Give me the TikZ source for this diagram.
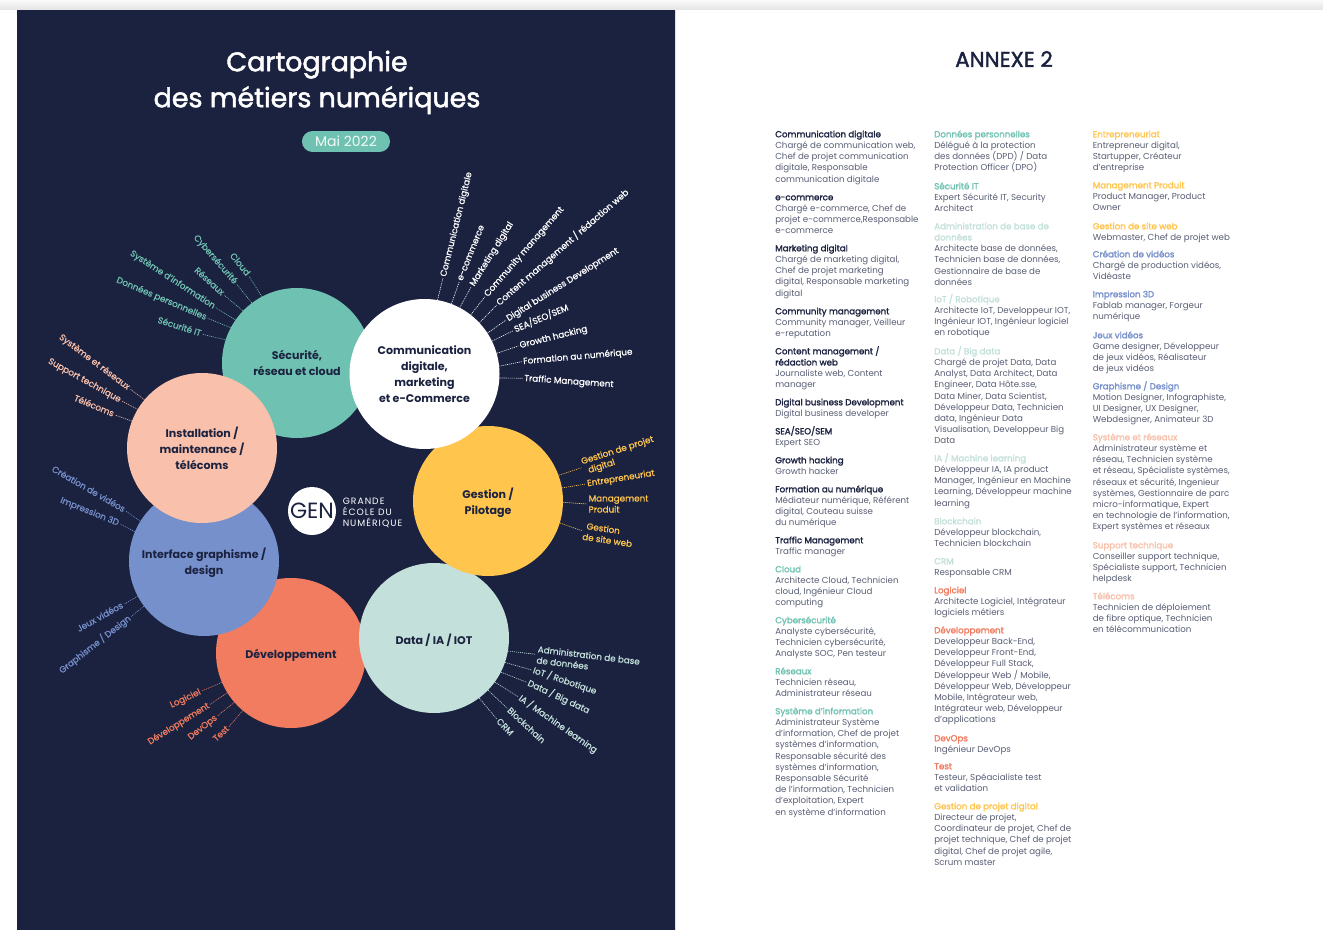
\documentclass[tikz,border=0pt]{standalone}
\usepackage{fontspec}
\setmainfont{Poppins}
\newfontfamily\medf[FakeBold=0.9]{Poppins}
\newfontfamily\titf[FakeBold=1.8]{Poppins}
\newfontfamily\schoolf[LetterSpace=11]{Poppins}
\usetikzlibrary{calc}
\definecolor{navy}{HTML}{1B2240}
\definecolor{teal}{HTML}{6FC2B2}
\definecolor{peach}{HTML}{F9C0AB}
\definecolor{blu}{HTML}{7690CC}
\definecolor{coral}{HTML}{F27C5F}
\definecolor{amber}{HTML}{FFC54D}
\definecolor{mint}{HTML}{C3E0DA}
\definecolor{bodyc}{HTML}{595E74}
\tikzset{
  bub/.style={circle,minimum size=112.5pt,inner sep=0pt,align=center,text=navy,font=\fontsize{8.3}{12}\selectfont\bfseries},
  lab/.style={inner xsep=1pt,inner ysep=0pt,text height=5.2pt,text depth=1.4pt,font=\fontsize{6.6}{8.3}\medf},
  labm/.style={inner xsep=1pt,inner ysep=0pt,align=left,font=\fontsize{6.6}{8.3}\medf},
  cn/.style={line width=0.45pt,dash pattern=on 0.8pt off 0.7pt},
  blk/.style={anchor=north west,inner sep=0pt,align=left,text=bodyc,font=\fontsize{6.5}{8.4}\selectfont}
}
\newcommand{\blk}[6]{\node[blk] (#1) at (#2,{#3-7.67}) {\rule{0pt}{8pt}\textcolor{#4}{\titf #5}\\#6};}
\newcommand{\dn}{\rule{0pt}{11pt}}
\begin{document}
\begin{tikzpicture}[x=0.75pt,y=-0.75pt]
\useasboundingbox (0,0) rectangle (1323,930);
\fill[white] (0,0) rectangle (1323,930);
\shade[top color=white!98!black,bottom color=white!89!black] (0,0) rectangle (1323,10);
\fill[navy] (17,10) rectangle (675,930);
\fill[white!88!black] (675,10) rectangle (676,930);

\node[text=white,font=\fontsize{20.2}{27}\titf,align=center] (title) at (317,82.5) {Cartographie\\des métiers numériques};
\node[fill=teal,rounded corners=7.8pt,minimum width=66pt,minimum height=15.7pt,inner sep=0pt,text=white!90!teal,font=\fontsize{10.5}{12}\selectfont] (date) at (346,141.5) {Mai 2022};

% circles
\node[bub,fill=coral] (dev) at (291,653) {\dn Développement};
\node[bub,fill=mint] (dat) at (434,638) {\dn Data / IA / IOT};
\node[bub,fill=blu] (inter) at (204,561) {\dn Interface graphisme /\\design};
\node[bub,fill=teal] (sec) at (297,363) {Sécurité,\\réseau et cloud};
\node[bub,fill=peach] (inst) at (202,448) {Installation /\\maintenance /\\télécoms};
\node[bub,fill=amber] (ges) at (488,501) {\dn Gestion /\\Pilotage};
\node[bub,fill=white] (com) at (424.5,374) {Communication\\digitale,\\marketing\\et e-Commerce};

% logo
\node[circle,fill=white,minimum size=36pt,inner sep=0pt,text=navy,font=\fontsize{16.5}{16}\selectfont] (logo) at (312,511) {GEN};
\node[anchor=west,inner sep=0pt,align=left,text=white,font=\fontsize{6.9}{8.3}\schoolf] (school) at (342.5,513) {GRANDE\\ÉCOLE DU\\NUMÉRIQUE};

% Communication labels
\foreach \n/\a/\x/\y/\r/\t in {
c1/80.7/443/278/76/{Communication digitale},
c2/69.9/459.3/281.7/68/{e-commerce},
c3/62.6/471.3/286.7/58/{Marketing digital},
c4/52/485/296.7/49/{Community management},
c5/43.9/496.7/305/41/{Content management / rédaction web},
c6/33.7/506/320/32/{Digital business Development},
c7/26/513.3/330.7/23/{SEA/SEO/SEM},
c8/16.3/518.3/346/14/{Growth hacking},
c9/6.5/521.7/361.7/5/{Formation au numérique},
c10/-3.2/522.7/378.3/-4/{Traffic Management}}{
  \node[lab,text=white,anchor=west,rotate=\r] (\n) at (\x,\y) {\t};
  \draw[cn,white] (com.\a) -- (\n.west);
}
% Security labels
\foreach \n/\a/\x/\y/\r/\t in {
s1/118.4/249/276/-51/{Cloud},
s2/127/236.7/284/-49/{Cybersécurité},
s3/136.2/224/295/-42/{Réseaux},
s4/145.1/215.7/307.7/-33/{Système d’information},
s5/152.6/207.7/318.3/-23/{Données personnelles},
s6/162/202.3/334.3/-17.6/{Sécurité IT}}{
  \node[lab,text=teal,anchor=east,rotate=\r] (\n) at (\x,\y) {\t};
  \draw[cn,teal] (sec.\a) -- (\n.east);
}
% Installation labels
\foreach \n/\a/\x/\y/\r/\t in {
i1/140.7/130/389/-37/{Système et réseaux},
i2/149.8/121.7/401/-29/{Support technique},
i3/159.7/115/415/-22.6/{Télécoms}}{
  \node[lab,text=peach,anchor=east,rotate=\r] (\n) at (\x,\y) {\t};
  \draw[cn,peach] (inst.\a) -- (\n.east);
}
% Interface labels
\foreach \n/\a/\x/\y/\r/\t in {
g1/148/125.7/511/-30/{Création de vidéos},
g2/157/120/524/-22/{Impression 3D},
g3/208.9/124/604.3/29/{Jeux vidéos},
g4/217.6/131/616.7/38/{Graphisme / Design}}{
  \node[lab,text=blu,anchor=east,rotate=\r] (\n) at (\x,\y) {\t};
  \draw[cn,blu] (inter.\a) -- (\n.east);
}
% Development labels
\foreach \n/\a/\x/\y/\r/\t in {
d1/203.6/201.7/691/25/{Logiciel},
d2/212.8/210/704.3/32/{Développement},
d3/221/217.3/716/38/{DevOps},
d4/230.3/229/726.7/43/{Test}}{
  \node[lab,text=coral,anchor=east,rotate=\r] (\n) at (\x,\y) {\t};
  \draw[cn,coral] (dev.\a) -- (\n.east);
}
% Gestion labels
\node[labm,text=amber,anchor=west,rotate=17.7] (p1) at (581.7,467.7) {Gestion de projet\\[-0.6pt]\hspace{3pt}digital};
\draw[cn,amber] (ges.20.3) -- (p1.west);
\node[lab,text=amber,anchor=west,rotate=9] (p2) at (585.7,484) {Entrepreneuriat};
\draw[cn,amber] (ges.10) -- (p2.west);
\node[labm,text=amber,anchor=west] (p3) at (587,504) {Management\\Produit};
\draw[cn,amber] (ges.-1.7) -- (p3.west);
\node[labm,text=amber,anchor=west,rotate=-8.5] (p4) at (581.7,530.7) {\hspace{2pt}Gestion\\de site web};
\draw[cn,amber] (ges.-17.5) -- (p4.west);
% Data labels
\node[labm,text=mint,anchor=west,rotate=-7] (t1) at (535.7,654.3) {Administration de base\\de données};
\draw[cn,mint] (dat.-10.4) -- (t1.west);
\foreach \n/\a/\x/\y/\r/\t in {
t2/-19.4/531.7/670/-18.7/{IoT / Robotique},
t3/-27.2/526.7/682.3/-25/{Data / Big data},
t4/-36.2/518.3/696.7/-35/{IA / Machine learning},
t5/-44.8/507.3/708.3/-43/{Blockchain},
t6/-53/496.7/719/-46/{CRM}}{
  \node[lab,text=mint,anchor=west,rotate=\r] (\n) at (\x,\y) {\t};
  \draw[cn,mint] (dat.\a) -- (\n.west);
}

% Right page
\node[text=navy,font=\fontsize{16}{18}\titf] (annexe) at (1004,59) {ANNEXE 2};

% column 1
\blk{a1}{775}{134}{navy}{Communication digitale}{Chargé de communication web,\\Chef de projet communication\\digitale, Responsable\\communication digitale}
\blk{a2}{775}{197}{navy}{e-commerce}{Chargé e-commerce, Chef de\\projet e-commerce,Responsable\\e-commerce}
\blk{a3}{775}{248}{navy}{Marketing digital}{Chargé de marketing digital,\\Chef de projet marketing\\digital, Responsable marketing\\digital}
\blk{a4}{775}{311}{navy}{Community management}{Community manager, Veilleur\\e-reputation}
\blk{a5}{775}{351}{navy}{Content management /}{\textcolor{navy}{\titf rédaction web}\\Journaliste web, Content\\manager}
\blk{a6}{775}{402}{navy}{Digital business Development}{Digital business developer}
\blk{a7}{775}{431}{navy}{SEA/SEO/SEM}{Expert SEO}
\blk{a8}{775}{460}{navy}{Growth hacking}{Growth hacker}
\blk{a9}{775}{489}{navy}{Formation au numérique}{Médiateur numérique, Référent\\digital, Couteau suisse\\du numérique}
\blk{a10}{775}{540}{navy}{Traffic Management}{Traffic manager}
\blk{a11}{775}{569}{teal}{Cloud}{Architecte Cloud, Technicien\\cloud, Ingénieur Cloud\\computing}
\blk{a12}{775}{620}{teal}{Cybersécurité}{Analyste cybersécurité,\\Technicien cybersécurité,\\Analyste SOC, Pen testeur}
\blk{a13}{775}{671}{teal}{Réseaux}{Technicien réseau,\\Administrateur réseau}
\blk{a14}{775}{711}{teal}{Système d’information}{Administrateur Système\\d’information, Chef de projet\\systèmes d’information,\\Responsable sécurité des\\systèmes d’information,\\Responsable Sécurité\\de l’information, Technicien\\d’exploitation, Expert\\en système d’information}
% column 2
\blk{b1}{934}{134}{teal}{Données personnelles}{Délégué à la protection\\des données (DPD) / Data\\Protection Officer (DPO)}
\blk{b2}{934}{186}{teal}{Sécurité IT}{Expert Sécurité IT, Security\\Architect}
\blk{b3}{934}{226}{mint}{Administration de base de}{\textcolor{mint}{\titf données}\\Architecte base de données,\\Technicien base de données,\\Gestionnaire de base de\\données}
\blk{b4}{934}{299}{mint}{IoT / Robotique}{Architecte IoT, Developpeur IOT,\\Ingénieur IOT, Ingénieur logiciel\\en robotique}
\blk{b5}{934}{351}{mint}{Data / Big data}{Chargé de projet Data, Data\\Analyst, Data Architect, Data\\Engineer, Data Hôte.sse,\\Data Miner, Data Scientist,\\Développeur Data, Technicien\\data, Ingénieur Data\\Visualisation, Developpeur Big\\Data}
\blk{b6}{934}{458}{mint}{IA / Machine learning}{Développeur IA, IA product\\Manager, Ingénieur en Machine\\Learning, Développeur machine\\learning}
\blk{b7}{934}{521}{mint}{Blockchain}{Développeur blockchain,\\Technicien blockchain}
\blk{b8}{934}{561}{mint}{CRM}{Responsable CRM}
\blk{b9}{934}{590}{coral}{Logiciel}{Architecte Logiciel, Intégrateur\\logiciels métiers}
\blk{b10}{934}{630}{coral}{Développement}{Developpeur Back-End,\\Developpeur Front-End,\\Développeur Full Stack,\\Développeur Web / Mobile,\\Développeur Web, Développeur\\Mobile, Intégrateur web,\\Intégrateur web, Développeur\\d’applications}
\blk{b11}{934}{738}{coral}{DevOps}{Ingénieur DevOps}
\blk{b12}{934}{766}{coral}{Test}{Testeur, Spéacialiste test\\et validation}
\blk{b13}{934}{806}{amber}{Gestion de projet digital}{Directeur de projet,\\Coordinateur de projet, Chef de\\projet technique, Chef de projet\\digital, Chef de projet agile,\\Scrum master}
% column 3
\blk{e1}{1092.5}{134}{amber}{Entrepreneuriat}{Entrepreneur digital,\\Startupper, Créateur\\d’entreprise}
\blk{e2}{1092.5}{185}{amber}{Management Produit}{Product Manager, Product\\Owner}
\blk{e3}{1092.5}{226}{amber}{Gestion de site web}{Webmaster, Chef de projet web}
\blk{e4}{1092.5}{254}{blu}{Création de vidéos}{Chargé de production vidéos,\\Vidéaste}
\blk{e5}{1092.5}{294}{blu}{Impression 3D}{Fablab manager, Forgeur\\numérique}
\blk{e6}{1092.5}{335}{blu}{Jeux vidéos}{Game designer, Développeur\\de jeux vidéos, Réalisateur\\de jeux vidéos}
\blk{e7}{1092.5}{386}{blu}{Graphisme / Design}{Motion Designer, Infographiste,\\UI Designer, UX Designer,\\Webdesigner, Animateur 3D}
\blk{e8}{1092.5}{437}{peach}{Système et réseaux}{Administrateur système et\\réseau, Technicien système\\et réseau, Spécialiste systèmes,\\réseaux et sécurité, Ingenieur\\systèmes, Gestionnaire de parc\\micro-informatique, Expert\\en technologie de l’information,\\Expert systèmes et réseaux}
\blk{e9}{1092.5}{545}{peach}{Support technique}{Conseiller support technique,\\Spécialiste support, Technicien\\helpdesk}
\blk{e10}{1092.5}{596}{peach}{Télécoms}{Technicien de déploiement\\de fibre optique, Technicien\\en télécommunication}
\end{tikzpicture}
\end{document}
